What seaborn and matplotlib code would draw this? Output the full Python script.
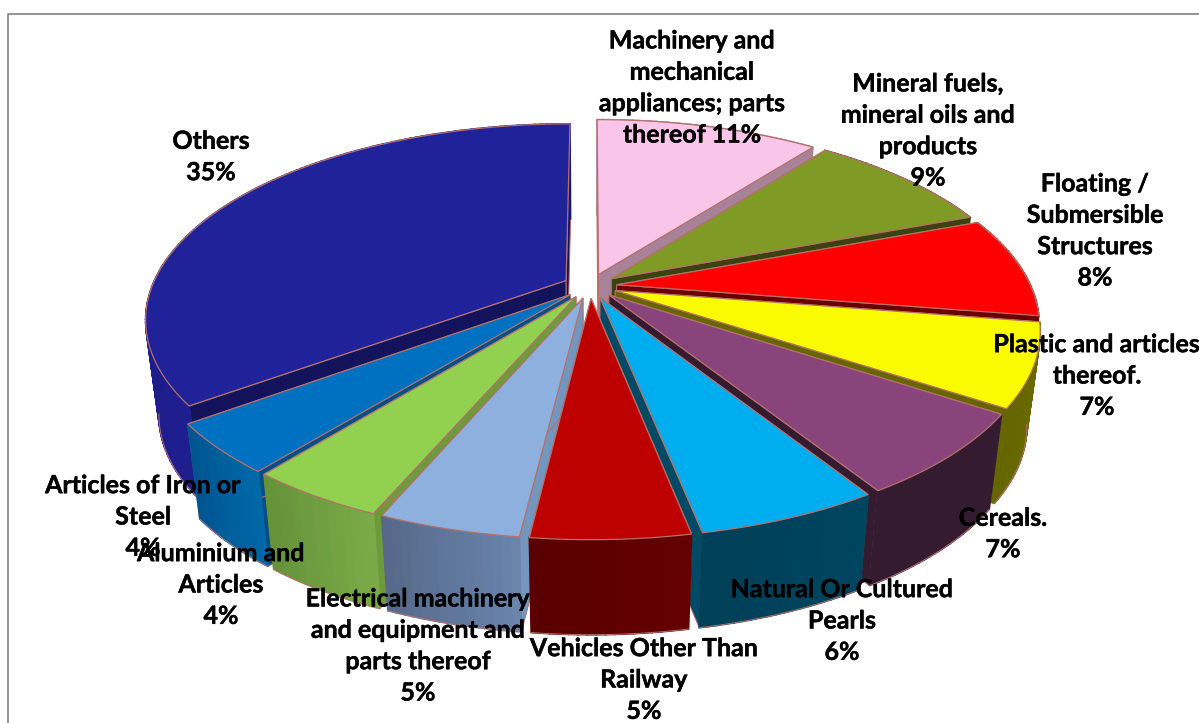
import numpy as np
import seaborn as sns
import matplotlib.pyplot as plt
import matplotlib.patheffects as pe
from matplotlib.patches import Polygon

categories = [
    "Machinery and\nmechanical\nappliances; parts\nthereof 11%",
    "Mineral fuels,\nmineral oils and\nproducts\n9%",
    "Floating /\nSubmersible\nStructures\n8%",
    "Plastic and articles\nthereof.\n7%",
    "Cereals.\n7%",
    "Natural Or Cultured\nPearls\n6%",
    "Vehicles Other Than\nRailway\n5%",
    "Electrical machinery\nand equipment and\nparts thereof\n5%",
    "Aluminium and\nArticles\n4%",
    "Articles of Iron or\nSteel\n4%",
    "Others\n35%",
]
values = [10.4, 8.9, 8.3, 6.8, 6.8, 5.8, 5.0, 4.5, 4.4, 4.1, 35.2]

top_colors = ["#F9C6EA", "#7F9A25", "#FF0000", "#FBFB00", "#8A447C", "#00AEEF",
              "#BD0000", "#8DB0DE", "#92D050", "#0070C0", "#1F2299"]
side_left = ["#A88299", "#3A4210", "#6A0000", "#6B6B00", "#351B30", "#004560",
             "#640000", "#6A84AC", "#7AAA48", "#0068A8", "#1E1E90"]
side_right = ["#A88299", "#3A4210", "#6A0000", "#666600", "#351B30", "#004058",
              "#5A0000", "#56698A", "#66923A", "#005590", "#18187A"]
radial_colors = ["#A88299", "#3A4210", "#6A0000", "#666600", "#351B30", "#004A66",
                 "#640000", "#7396BE", "#6D9A3A", "#004F86", "#13135C"]

label_x = [692, 928, 1095, 1097, 1003, 842, 644, 418, 221, 143, 211]
label_y = [88, 131, 231, 376, 534, 621, 680, 646, 585, 517, 157]

CX, CY = 590, 286
RX, RY = 414, 189
PERSP = 0.194
EXPLODE = 0.065
DEPTH = 95
SHRINK = 0.97
EDGE = "#B5706A"


def proyectar(u, v):
    """Plano de la tarta a pixeles, con perspectiva."""
    p = 1 / (1 + PERSP * v)
    return CX + RX * u * p, CY - RY * v * p


def bajar(x, y):
    """Lleva un punto de la cara superior a la inferior."""
    return CX + (x - CX) * SHRINK, y + DEPTH


def dibujar_porcion(ax, a0, a1, i):
    """Dibuja caras radiales, lateral y cara superior de una porcion."""
    # las porciones de delante quedan encima
    z = 3 - np.cos((a0 + a1) / 2)
    mid = (a0 + a1) / 2
    ox, oy = EXPLODE * np.sin(mid), EXPLODE * np.cos(mid)
    ang = np.linspace(a0, a1, max(int((a1 - a0) * 60), 8))
    arc_x, arc_y = proyectar(ox + np.sin(ang), oy + np.cos(ang))
    tip_x, tip_y = proyectar(ox, oy)

    for px, py in ((arc_x[0], arc_y[0]), (arc_x[-1], arc_y[-1])):
        bx, by = bajar(px, py)
        tx, ty = bajar(tip_x, tip_y)
        ax.add_patch(Polygon([(tip_x, tip_y), (px, py), (bx, by), (tx, ty)],
                             fc=radial_colors[i], ec=EDGE, lw=0.7, zorder=z))

    low_x, low_y = bajar(arc_x, arc_y)
    ramp = sns.blend_palette([side_left[i], side_right[i]], len(ang) - 1)
    for k in range(len(ang) - 1):
        ax.add_patch(Polygon([(arc_x[k], arc_y[k]), (arc_x[k + 1], arc_y[k + 1]),
                              (low_x[k + 1], low_y[k + 1]), (low_x[k], low_y[k])],
                             fc=ramp[k], ec=ramp[k], lw=1.2, zorder=z + 0.1))
    # solo la parte visible del borde inferior
    delante = np.cos(ang) < -0.19
    ax.plot(low_x[delante], low_y[delante], color=EDGE, lw=0.7, zorder=z + 0.2)

    pts = [(tip_x, tip_y)] + list(zip(arc_x, arc_y))
    ax.add_patch(Polygon(pts, fc=top_colors[i], ec=EDGE, lw=0.9, zorder=z + 0.3))


def main():
    sns.set_theme(style="white")
    plt.rcParams["font.family"] = ["Lato", "DejaVu Sans"]

    fig, ax = plt.subplots(figsize=(11.99, 7.23), dpi=100)
    fig.subplots_adjust(0, 0, 1, 1)
    ax.set_xlim(0, 1199)
    ax.set_ylim(723, 0)
    ax.axis("off")

    # borde del grafico
    ax.plot([8, 8, 1199], [723, 14, 14], color="#8C8C8C", lw=1.3)

    fracs = np.array(values) / np.sum(values)
    ends = np.cumsum(fracs) * 2 * np.pi
    starts = ends - fracs * 2 * np.pi
    # de atras hacia adelante
    for i in np.argsort(-np.cos((starts + ends) / 2)):
        dibujar_porcion(ax, starts[i], ends[i], i)

    grueso = [pe.withStroke(linewidth=0.3, foreground="black")]
    for nombre, x, y in zip(categories, label_x, label_y):
        ax.text(x, y, nombre, ha="center", va="center", ma="center", zorder=20,
                fontsize=18, fontweight="bold", color="black", linespacing=1.44,
                path_effects=grueso)

    fig.savefig("out.png", dpi=100)


if __name__ == "__main__":
    main()
